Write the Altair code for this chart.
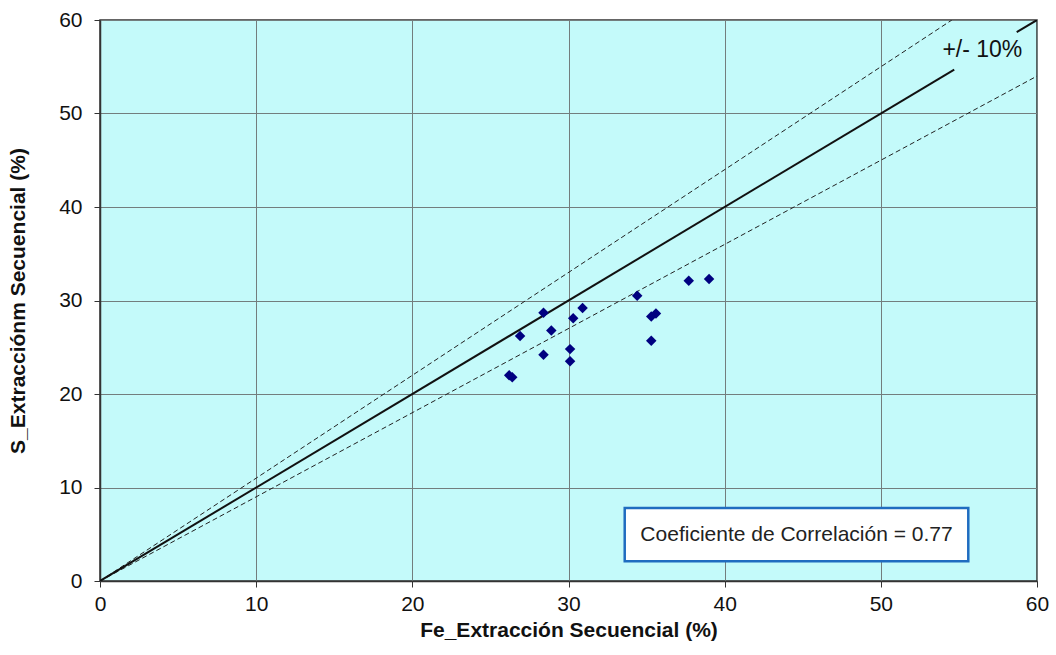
import altair as alt
import pandas as pd

fe = [26.2, 26.4, 26.9, 28.4, 28.4, 28.9, 30.1, 30.1, 30.3, 30.9, 34.4, 35.3, 35.6, 35.3, 37.7, 39.0]
s = [22.0, 21.8, 26.2, 28.7, 24.2, 26.8, 24.8, 23.5, 28.1, 29.2, 30.5, 28.3, 28.6, 25.7, 32.1, 32.3]

ticks = [0, 10, 20, 30, 40, 50, 60]

# 1:1 line (broken where the label sits) and +/-10% lines
solid_x = [0, 54.7, 58.7, 60]
solid_y = [0, 54.7, 58.7, 60]
solid_seg = [0, 0, 1, 1]
upper_x = [0, 54.55]
upper_y = [0, 60]
lower_x = [0, 60]
lower_y = [0, 54]

label_text = ["+/- 10%"]
label_x = [56.5]
label_y = [56.8]

box_x = [33.6]
box_x2 = [55.6]
box_y = [2.1]
box_y2 = [7.8]
box_text = ["Coeficiente de Correlación = 0.77"]
box_tx = [44.6]
box_ty = [4.95]

font = "Liberation Sans"
xs = alt.Scale(domain=[0, 60], nice=False, zero=True)
ys = alt.Scale(domain=[0, 60], nice=False, zero=True)

pts = pd.DataFrame({"fe": fe, "s": s})
solid = pd.DataFrame({"x": solid_x, "y": solid_y, "seg": solid_seg})
dash = pd.DataFrame({"x": upper_x + lower_x, "y": upper_y + lower_y, "seg": [0, 0, 1, 1]})
lab = pd.DataFrame({"x": label_x, "y": label_y, "t": label_text})
box = pd.DataFrame({"x": box_x, "x2": box_x2, "y": box_y, "y2": box_y2})
btxt = pd.DataFrame({"x": box_tx, "y": box_ty, "t": box_text})

xax = alt.Axis(values=ticks, title="Fe_Extracción Secuencial (%)", grid=True)
yax = alt.Axis(values=ticks, title="S_Extracciónm Secuencial (%)", grid=True)

dash_line = alt.Chart(dash).mark_line(color="#222222", strokeWidth=1, strokeDash=[5, 3], clip=True).encode(
    x=alt.X("x:Q", scale=xs, axis=xax), y=alt.Y("y:Q", scale=ys, axis=yax), detail="seg:N")

solid_line = alt.Chart(solid).mark_line(color="#111111", strokeWidth=2, clip=True).encode(
    x=alt.X("x:Q", scale=xs), y=alt.Y("y:Q", scale=ys), detail="seg:N")

base_pts = alt.Chart(pts).mark_point(shape="diamond", filled=True, size=110, color="#000080", opacity=1).encode(
    x=alt.X("fe:Q", scale=xs),
    y=alt.Y("s:Q", scale=ys),
)

label = alt.Chart(lab).mark_text(fontSize=23, font=font, color="#111").encode(
    x=alt.X("x:Q", scale=xs), y=alt.Y("y:Q", scale=ys), text="t:N")

rect = alt.Chart(box).mark_rect(fill="white", stroke="#1f6cc0", strokeWidth=2.5).encode(
    x=alt.X("x:Q", scale=xs), x2="x2:Q", y=alt.Y("y:Q", scale=ys), y2="y2:Q")

rtext = alt.Chart(btxt).mark_text(fontSize=21, font=font, color="#222").encode(
    x=alt.X("x:Q", scale=xs), y=alt.Y("y:Q", scale=ys), text="t:N")

chart = alt.layer(dash_line, solid_line, base_pts, label, rect, rtext).properties(
    width=937, height=561,
    autosize=alt.AutoSizeParams(type="none"),
    padding={"left": 100, "top": 20, "right": 19, "bottom": 74},
    background="white",
).configure_view(
    fill="#c4fafa", stroke="#333333", strokeWidth=1.5
).configure_axis(
    labelFontSize=21, titleFontSize=21, titleFontWeight="bold",
    labelFont=font, titleFont=font, labelColor="#111", titleColor="#111",
    tickColor="#333", domainColor="#333", domainWidth=1.5, tickSize=6,
    labelFlush=False, labelOverlap=False,
    gridColor="#737d7d", gridWidth=1, gridOpacity=1,
).configure_axisX(
    labelPadding=6, titlePadding=5
).configure_axisY(
    labelPadding=12, titlePadding=30
)

chart.save("out.html", embed_options={"renderer": "svg", "actions": False})
